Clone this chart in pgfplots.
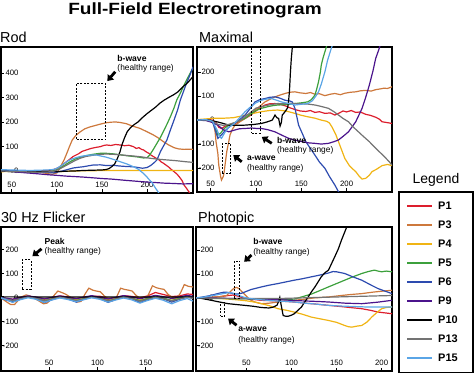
\documentclass[border=0pt]{standalone}
\usepackage{fontspec}
\setmainfont{Liberation Sans}
\usepackage{graphicx}
\usepackage{pgfplots}
\pgfplotsset{compat=1.18}
\usetikzlibrary{arrows.meta}

\definecolor{cP1}{RGB}{220,30,45}
\definecolor{cP3}{RGB}{205,120,60}
\definecolor{cP4}{RGB}{240,180,20}
\definecolor{cP5}{RGB}{60,160,60}
\definecolor{cP6}{RGB}{45,75,175}
\definecolor{cP9}{RGB}{75,20,140}
\definecolor{cP10}{RGB}{0,0,0}
\definecolor{cP13}{RGB}{115,115,115}
\definecolor{cP15}{RGB}{90,165,230}

\pgfplotsset{
 ergaxis/.style={
  scale only axis, anchor=north west,
  axis line style={line width=1.6bp},
  tick align=inside, tick pos=left,
  major tick length=3.5bp,
  tick style={black,line width=0.9bp},
  ticklabel style={font=\fontsize{7.8}{8}\selectfont},
  /pgf/number format/assume math mode=true,
  xticklabel style={anchor=south,yshift=1.5bp},
  yticklabel style={anchor=east,xshift=21bp},
  every axis title shift=0pt,
  title style={at={(0,1)},anchor=base west,inner sep=0pt,yshift=4bp,font=\fontsize{14.5}{15}\selectfont},
  every axis plot/.append style={line width=1.2bp},
 },
 box/.style={black, line width=0.8bp, dash pattern=on 2bp off 1.5bp, forget plot},
}
\tikzset{arr/.style={-{Triangle[length=5.5bp,width=8bp]}, line width=2.8bp},
 bw/.style={font=\bfseries\fontsize{8.6}{9}\selectfont, anchor=west, inner sep=0pt},
 hr/.style={font=\fontsize{8.4}{9}\selectfont, anchor=west, inner sep=0pt}}

\begin{document}
\begin{tikzpicture}
\path[use as bounding box] (0bp,0bp) rectangle (474bp,374bp);
\node[anchor=base,font=\bfseries\fontsize{16.3}{17}\selectfont,inner sep=0pt] at (195bp,359bp) {\scalebox{1.17}[1]{Full-Field Electroretinogram}};

% ---------------- Rod ----------------
\begin{axis}[ergaxis, at={(1bp,327bp)}, width=192bp, height=146bp,
  xmin=38, xmax=251, ymin=-90, ymax=506,
  xtick={50,100,150,200}, ytick={0,100,200,300,400},
  title={Rod}, title style={xshift=-1bp}]
\addplot[cP1] coordinates {(38,0) (50,-2) (60,1) (70,-1) (80,0) (90,2) (96,5) (102,14) (108,30) (114,47) (118,59) (124,70) (128,80) (133,86) (138,92) (143,96) (148,99) (152,104) (155,106) (160,104) (165,108) (170,106) (175,103) (180,105) (185,99) (188,92) (191,95) (194,88) (196,86) (199,78) (202,72) (205,63) (207,59) (210,52) (213,46) (216,36) (218,32) (221,24) (224,16) (227,6) (230,-3) (233,-12) (236,-25) (239,-40) (241,-57) (244,-72) (247,-88) (249,-100)};
\addplot[cP3] coordinates {(38,2) (50,0) (60,-2) (70,-1) (80,-4) (88,-10) (95,-14) (100,-8) (104,18) (108,45) (111,72) (114,100) (117,126) (121,145) (126,160) (131,172) (136,179) (141,184) (148,191) (155,197) (160,199) (165,200) (170,198) (177,193) (184,183) (192,174) (200,160) (207,147) (212,136) (218,120) (224,106) (230,95) (235,90) (241,88) (246,89) (251,88)};
\addplot[cP4] coordinates {(38,-3) (60,-2) (80,-4) (100,-3) (120,0) (140,1) (160,2) (180,2) (200,2) (220,2) (251,2)};
\addplot[cP5] coordinates {(38,0) (50,-3) (60,-2) (70,-4) (80,-3) (90,-2) (96,0) (102,8) (108,22) (114,36) (120,48) (126,56) (132,62) (140,68) (148,72) (155,72) (162,70) (170,66) (178,62) (185,59) (190,57) (196,53) (200,54) (203,65) (207,88) (211,113) (215,138) (218,160) (222,190) (226,222) (230,258) (233,290) (237,318) (240,342) (244,372) (248,400) (251,420)};
\addplot[cP6] coordinates {(38,3) (50,2) (60,0) (70,-2) (80,-4) (90,-6) (96,-8) (100,-5) (106,0) (112,6) (118,12) (124,15) (129,17) (135,21) (140,24) (148,25) (155,22) (162,23) (170,20) (178,18) (185,17) (190,14) (195,11) (200,14) (204,22) (208,34) (211,45) (215,80) (218,100) (222,126) (226,168) (230,208) (234,250) (237,290) (241,330) (244,360) (248,395) (251,425)};
\addplot[cP9] coordinates {(38,0) (50,-3) (60,-6) (70,-9) (80,-12) (92,-16) (100,-18) (110,-21) (120,-23) (129,-25) (140,-28) (150,-31) (160,-33) (166,-35) (175,-38) (185,-41) (195,-44) (203,-46) (212,-48) (220,-50) (229,-51) (240,-53) (251,-52)};
\addplot[cP10] coordinates {(38,0) (50,-2) (60,-1) (70,-3) (80,-2) (90,-1) (100,-3) (110,-1) (120,0) (130,2) (140,3) (150,4) (155,6) (158,10) (161,18) (164,28) (167,50) (170,78) (172,105) (175,135) (178,160) (182,178) (186,190) (190,200) (195,218) (200,234) (205,248) (210,262) (214,276) (219,289) (224,300) (229,310) (234,322) (240,344) (245,360) (251,385)};
\addplot[cP13] coordinates {(38,0) (50,-2) (60,-3) (70,-4) (80,-5) (90,-4) (96,-2) (102,6) (108,18) (114,30) (120,42) (126,52) (132,59) (140,64) (148,68) (155,69) (162,68) (170,66) (178,63) (185,61) (195,57) (203,52) (212,48) (222,45) (232,42) (242,38) (251,35)};
\addplot[cP15] coordinates {(38,5) (50,4) (60,3) (70,2) (80,3) (90,4) (96,6) (100,11) (105,22) (111,38) (116,48) (121,54) (126,59) (131,62) (137,65) (144,65) (150,60) (155,56) (162,48) (170,38) (178,28) (185,17) (190,8) (196,-10) (200,-25) (203,-38) (206,-50) (209,-68) (212,-84) (214,-95)};
\addplot[box] coordinates {(122,127) (154,127) (154,358) (122,358) (122,127)};
\draw[arr] (axis cs:164.7,405) -- (axis cs:156,367);
\node[bw] at (axis cs:167,461) {b-wave};
\node[hr] at (axis cs:167,420) {(healthy range)};
\end{axis}

% ---------------- Maximal ----------------
\begin{axis}[ergaxis, at={(197bp,327bp)}, width=195bp, height=145bp,
  xmin=35, xmax=250, ymin=-300, ymax=305,
  xtick={50,100,150,200}, ytick={-200,-100,0,100,200},
  title={Maximal}, title style={xshift=2bp}]
\addplot[cP1] coordinates {(35,0) (45,2) (52,0) (56,-10) (59,-30) (62,-35) (65,-28) (68,-22) (72,-18) (77,-14) (82,-5) (88,7) (94,20) (99,35) (104,50) (110,63) (115,68) (121,69) (126,66) (132,60) (137,52) (143,44) (149,38) (155,36) (160,40) (165,32) (170,35) (176,28) (182,30) (187,21) (192,30) (196,38) (200,34) (205,40) (210,32) (215,34) (221,24) (226,20) (232,12) (236,4) (239,-7) (244,-10) (250,-14)};
\addplot[cP3] coordinates {(35,0) (45,2) (50,-2) (53,-7) (55,-50) (56,-90) (58,-140) (59,-188) (61,-235) (62,-250) (64,-235) (65,-215) (66.5,-170) (67.8,-132) (70,-90) (71.4,-62) (74,-38) (77,-21) (82,-8) (88,7) (94,25) (99,42) (105,60) (110,76) (116,88) (121,97) (127,105) (132,111) (137,116) (143,118) (148,114) (155,111) (160,115) (165,108) (170,110) (176,102) (182,108) (187,111) (193,106) (198,112) (204,116) (210,118) (215,122) (221,124) (227,121) (232,127) (237,130) (241,133) (245,132) (250,139)};
\addplot[cP4] coordinates {(35,2) (45,5) (55,8) (65,8) (75,10) (88,20) (97,28) (106,35) (115,40) (124,42) (133,38) (143,28) (150,20) (157,14) (165,8) (172,0) (178,-5) (181,-12) (184,-30) (188,-60) (191,-90) (195,-130) (198,-160) (203,-190) (207,-205) (210,-215) (214,-235) (217,-246) (221,-243) (225,-230) (228,-215) (233,-205) (239,-190) (245,-185) (250,-190)};
\addplot[cP5] coordinates {(35,0) (45,0) (52,-8) (55,-30) (58,-62) (61,-55) (65,-35) (70,-21) (77,-10) (83,0) (88,7) (94,25) (100,40) (106,49) (112,55) (118,60) (124,63) (130,64) (137,66) (143,69) (150,72) (157,76) (161,85) (165,104) (167,130) (169,160) (171,200) (172,229) (174,260) (176,285) (178,310)};
\addplot[cP6] coordinates {(35,0) (45,2) (52,-5) (55,-40) (58,-76) (61,-65) (65,-49) (70,-30) (77,-12) (83,5) (88,21) (94,50) (99,76) (104,85) (110,90) (115,95) (121,97) (126,92) (132,83) (137,80) (140,76) (143,49) (145,15) (147,-21) (151,-55) (155,-90) (160,-118) (165,-146) (170,-175) (176,-201) (181,-235) (187,-271) (191,-299) (193,-310)};
\addplot[cP9] coordinates {(35,0) (45,-2) (52,-10) (58,-21) (64,-40) (70,-49) (76,-42) (82,-36) (88,-35) (95,-33) (101,-35) (106,-35) (113,-40) (121,-49) (128,-62) (136,-76) (143,-84) (151,-90) (158,-95) (165,-97) (172,-100) (180,-97) (186,-90) (191,-83) (196,-68) (202,-49) (206,-28) (210,-7) (214,25) (217,49) (221,95) (225,146) (229,205) (232,257) (236,300) (238,326)};
\addplot[cP10] coordinates {(35,0) (45,2) (52,-3) (58,-8) (64,-14) (70,-21) (78,-22) (88,-21) (98,-18) (106,-14) (112,-8) (118,0) (121,21) (123,10) (125,7) (126.6,-25) (128,-10) (129,21) (131,30) (133,40) (135,52) (136,80) (137,125) (138,200) (139,257) (140,300) (141,330)};
\addplot[cP13] coordinates {(35,0) (45,0) (52,-5) (58,-18) (64,-22) (70,-18) (77,-10) (83,0) (88,14) (95,35) (100,50) (106,56) (113,62) (119,66) (124,69) (131,68) (138,70) (143,69) (150,68) (157,67) (165,63) (172,57) (180,49) (186,35) (191,21) (196,7) (202,-7) (207,-28) (213,-49) (219,-70) (225,-90) (230,-110) (236,-132) (241,-150) (247,-174) (250,-188)};
\addplot[cP15] coordinates {(35,0) (45,2) (52,-5) (57,-40) (60,-70) (62,-76) (66,-50) (70,-30) (76,-15) (82,10) (88,35) (94,55) (100,72) (106,83) (112,88) (117,90) (122,84) (128,76) (135,70) (143,63) (150,66) (157,69) (162,80) (166,100) (169,118) (172,150) (176,201) (179,250) (183,299) (185,320)};
\addplot[box] coordinates {(95.4,-55) (104.5,-55) (104.5,330) (95.4,330) (95.4,-55)};
\addplot[box] coordinates {(63,-222) (72,-222) (72,-97) (63,-97) (63,-222)};
\draw[arr] (axis cs:117.4,-97) -- (axis cs:106.4,-70);
\draw[arr] (axis cs:84.3,-174) -- (axis cs:75,-146);
\node[bw] at (axis cs:123,-83) {b-wave};
\node[hr] at (axis cs:123,-125) {(healthy range)};
\node[bw] at (axis cs:90,-160) {a-wave};
\node[hr] at (axis cs:90,-201) {(healthy range)};
\end{axis}

% ---------------- 30 Hz Flicker ----------------
\begin{axis}[ergaxis, at={(1bp,147bp)}, width=192bp, height=144bp,
  xmin=0, xmax=199, ymin=-305, ymax=295,
  xtick={50,100,150}, ytick={-200,-100,0,100,200},
  title={30 Hz Flicker}]
\addplot[cP1] coordinates {(0,0) (6,-3) (12,-6) (20,2) (28,6) (36,3) (45,-4) (53,0) (61,8) (69,4) (78,-3) (86,2) (94,6) (102,7) (111,-2) (119,0) (127,9) (135,6) (144,0) (152,8) (160,22) (168,14) (177,5) (185,8) (193,16) (199,14)};
\addplot[cP3] coordinates {(0,0) (5,-15) (10,-28) (14,-28) (18,-10) (22,5) (26,12) (30,8) (35,-3) (40,-15) (44,-25) (48,-22) (52,-5) (56,15) (59,28) (63,22) (67,15) (71,5) (75,-8) (79,-18) (83,-15) (87,15) (91,40) (95,32) (99,28) (103,25) (107,8) (112,-8) (116,-12) (120,5) (124,40) (128,35) (132,32) (136,28) (140,10) (145,-5) (149,-10) (153,15) (157,50) (161,42) (165,38) (169,35) (173,15) (178,0) (182,-5) (186,20) (190,55) (194,48) (199,45)};
\addplot[cP4] coordinates {(0,0) (6,-4) (12,-9) (20,-2) (28,5) (36,1) (45,-8) (53,-1) (61,4) (69,-2) (78,-9) (86,-2) (94,6) (102,0) (111,-8) (119,-1) (127,5) (135,0) (144,-10) (152,-3) (160,3) (168,-4) (177,-10) (185,-3) (193,4) (199,0)};
\addplot[cP5] coordinates {(0,0) (6,-5) (12,-12) (20,-3) (28,6) (36,1) (45,-13) (53,-4) (61,5) (69,-1) (78,-12) (86,-3) (94,7) (102,1) (111,-14) (119,-4) (127,5) (135,0) (144,-13) (152,-3) (160,6) (168,0) (177,-12) (185,-2) (193,5) (199,1)};
\addplot[cP6] coordinates {(0,-2) (6,-10) (12,-17) (20,-6) (28,4) (36,-2) (45,-20) (53,-8) (61,3) (69,-4) (78,-18) (86,-6) (94,4) (102,-3) (111,-19) (119,-7) (127,4) (135,-2) (144,-20) (152,-8) (160,2) (168,-4) (177,-18) (185,-6) (193,3) (199,-2)};
\addplot[cP9] coordinates {(0,2) (6,-2) (12,-6) (20,1) (28,8) (36,3) (45,-5) (53,2) (61,8) (69,2) (78,-4) (86,3) (94,9) (102,3) (111,-5) (119,2) (127,9) (135,4) (144,-4) (152,3) (160,10) (168,5) (177,-3) (185,4) (193,10) (199,6)};
\addplot[cP10] coordinates {(0,4) (50,3) (100,3) (150,3) (199,3)};
\addplot[cP13] coordinates {(0,0) (6,-6) (12,-12) (20,-4) (28,3) (36,-2) (45,-12) (53,-5) (61,3) (69,-3) (78,-13) (86,-5) (94,2) (102,-3) (111,-13) (119,-5) (127,3) (135,-3) (144,-14) (152,-6) (160,2) (168,-4) (177,-13) (185,-5) (193,2) (199,-2)};
\addplot[cP15] coordinates {(0,0) (6,-9) (12,-19) (20,-8) (28,0) (36,-6) (45,-19) (53,-9) (61,-1) (69,-7) (78,-16) (86,-8) (94,0) (102,-6) (111,-18) (119,-9) (127,-1) (135,-8) (144,-22) (152,-11) (160,-2) (168,-10) (177,-25) (185,-12) (193,-3) (199,-14)};
\addplot[box] coordinates {(22,37) (31,37) (31,158) (22,158) (22,37)};
\draw[arr] (axis cs:42,204) -- (axis cs:32.5,173);
\node[bw] at (axis cs:45,236) {Peak};
\node[hr] at (axis cs:45,194) {(healthy range)};
\end{axis}

% ---------------- Photopic ----------------
\begin{axis}[ergaxis, at={(196bp,147bp)}, width=196bp, height=144bp,
  xmin=-6, xmax=211.5, ymin=-305, ymax=296,
  xtick={50,100,150,200}, ytick={-200,-100,0,100,200},
  title={Photopic}, title style={xshift=2bp},
  legend style={at={(axis description cs:1.0357,1.2431)}, anchor=north west,
    draw=none, fill=none, inner xsep=7bp, inner ysep=4.75bp,
    row sep=0pt, column sep=5bp, font=\bfseries\fontsize{11}{12}\selectfont,
    nodes={inner sep=0pt, minimum height=19bp}},
  legend cell align=left,
  legend image code/.code={\draw[#1, line width=2bp] (0bp,0bp) -- (25bp,0bp);}]
\addplot[cP1] coordinates {(-6,0) (0,0) (10,2) (20,5) (30,10) (35,12) (40,8) (45,2) (55,-5) (66,-10) (80,-12) (95,-15) (103,-17) (115,-22) (125,-25) (141,-31) (155,-36) (165,-40) (178,-45) (188,-52) (196,-59) (205,-63) (211.5,-66)};
\addplot[cP3] coordinates {(-6,0) (0,1) (10,3) (20,5) (28,10) (33,30) (36,40) (39,44) (42,38) (44,30) (48,15) (52,0) (55,-10) (60,-18) (66.6,-24) (75,-22) (85,-17) (95,-13) (103,-10) (115,-5) (125,0) (141,4) (155,10) (165,14) (178,18) (190,24) (200,28) (211.5,32)};
\addplot[cP4] coordinates {(-6,0) (0,0) (10,-1) (20,-2) (30,-5) (40,-8) (50,-12) (60,-18) (66.6,-24) (75,-32) (85,-45) (95,-52) (103,-59) (112,-68) (122,-80) (130,-86) (141,-94) (150,-102) (159,-115) (163,-120) (167,-122) (172,-118) (178,-115) (184,-100) (189,-80) (195,-60) (200,-45) (205,-40) (211.5,-38)};
\addplot[cP5] coordinates {(-6,0) (10,-2) (30,-3) (50,-4) (70,-5) (90,-6) (103,-5) (112,5) (122,16) (131,30) (141,46) (150,60) (159,74) (168,88) (178,102) (185,110) (192,116) (196,112) (200,109) (205,112) (211.5,109)};
\addplot[cP6] coordinates {(-6,0) (0,3) (10,10) (20,20) (25,24) (30,23) (35,18) (40,16) (45,20) (55,35) (66.6,46) (75,53) (85,60) (94,67) (103,74) (112,80) (122,88) (131,95) (141,104) (146,110) (150,109) (159,102) (168,88) (178,74) (187,56) (196,39) (204,28) (211.5,18)};
\addplot[cP9] coordinates {(-6,0) (10,0) (30,-2) (50,-3) (70,-5) (90,-8) (110,-12) (130,-15) (141,-17) (160,-22) (178,-24) (195,-18) (211.5,-10)};
\addplot[cP10] coordinates {(-6,0) (0,-2) (11,-10) (20,-17) (29.6,-24) (40,-28) (48,-31) (58,-35) (66.6,-40) (75,-42) (80,-38) (84,-30) (86,-10) (87,2) (88.5,-30) (90.7,-73) (93,-76) (96,-77) (100,-72) (103,-66) (107,-52) (111,-38) (115,-15) (118.5,4) (122,25) (126,46) (130,70) (133,88) (137,105) (141,116) (144,140) (148,172) (152,205) (155.5,242) (159,275) (163,312)};
\addplot[cP13] coordinates {(-6,0) (10,-1) (30,-2) (50,-3) (70,-2) (90,-2) (110,0) (130,2) (150,4) (170,6) (190,8) (211.5,10)};
\addplot[cP15] coordinates {(-6,0) (0,2) (10,8) (20,15) (30,22) (35,20) (40,12) (48,2) (55,-3) (66.6,-8) (80,-12) (95,-15) (103,-17) (115,-22) (125,-25) (141,-31) (155,-34) (170,-36) (185,-38) (200,-38) (211.5,-38)};
\addplot[box] coordinates {(36.3,-3) (42.6,-3) (42.6,154) (36.3,154) (36.3,-3)};
\addplot[box] coordinates {(21.5,-77) (26,-77) (26,-17) (21.5,-17) (21.5,-77)};
\draw[arr] (axis cs:55.6,179) -- (axis cs:47.4,151);
\draw[arr] (axis cs:39,-114) -- (axis cs:29.6,-86);
\node[bw] at (axis cs:57.4,234) {b-wave};
\node[hr] at (axis cs:57.4,190) {(healthy range)};
\node[bw] at (axis cs:40.7,-132) {a-wave};
\node[hr] at (axis cs:40.7,-177) {(healthy range)};
\legend{P1,P3,P4,P5,P6,P9,P10,P13,P15}
\end{axis}

\draw[line width=1.6bp] (399bp,182bp) rectangle (473bp,1.5bp);
\node[anchor=base,font=\fontsize{14}{15}\selectfont,inner sep=0pt] at (436bp,190bp) {Legend};
\end{tikzpicture}
\end{document}
